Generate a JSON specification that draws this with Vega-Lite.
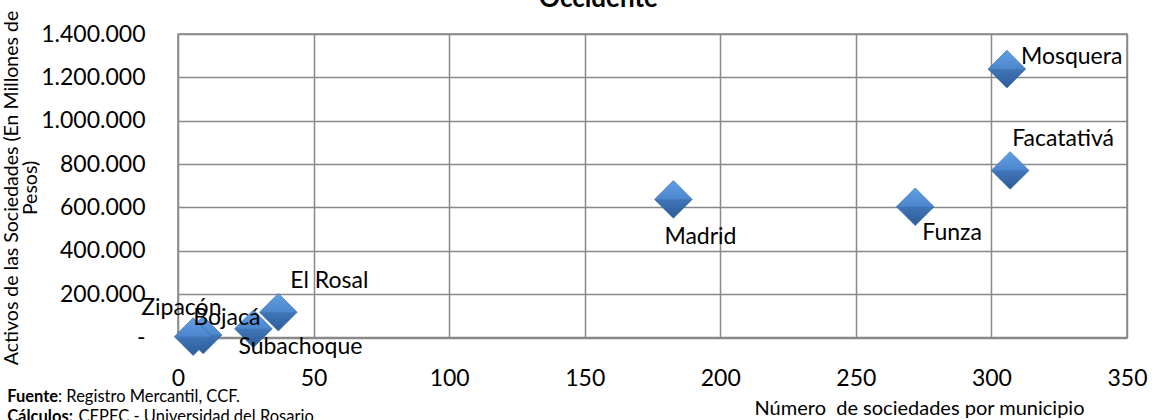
{
  "$schema": "https://vega.github.io/schema/vega-lite/v6.json",
  "autosize": {"type": "none"},
  "width": 949,
  "height": 303.5,
  "padding": {"left": 178, "top": 34, "right": 25, "bottom": 82.5},
  "background": "white",
  "title": {"text": "Occidente", "font": "Lato", "fontSize": 26, "fontWeight": "bold", "color": "black", "anchor": "middle", "dx": -54, "baseline": "alphabetic", "offset": -23},
  "config": {
    "view": {"stroke": "#898989", "strokeWidth": 1.5},
    "text": {"font": "Lato"},
    "axis": {"labelFont": "Lato", "titleFont": "Lato", "labelColor": "black", "titleColor": "black"}
  },
  "data": {"values": [
    {"municipio": "Mosquera", "sociedades": 305.7, "activos": 1238000},
    {"municipio": "Facatativá", "sociedades": 306.9, "activos": 770500},
    {"municipio": "Madrid", "sociedades": 182.7, "activos": 637000},
    {"municipio": "Funza", "sociedades": 271.9, "activos": 603000},
    {"municipio": "El Rosal", "sociedades": 37, "activos": 116600},
    {"municipio": "Subachoque", "sociedades": 27.8, "activos": 40000},
    {"municipio": "Bojacá", "sociedades": 9.3, "activos": 11500},
    {"municipio": "Zipacón", "sociedades": 5.6, "activos": 4000}
  ]},
  "resolve": {"axis": {"x": "independent", "y": "independent"}},
  "layer": [
    {
      "mark": {"type": "point", "shape": "diamond", "filled": true, "size": 1420, "opacity": 1,
        "fill": {"gradient": "linear", "x1": 0, "y1": 0, "x2": 0, "y2": 1, "stops": [
          {"offset": 0, "color": "#62a0e6"}, {"offset": 0.48, "color": "#4d86cc"}, {"offset": 0.52, "color": "#3f74b6"}, {"offset": 1, "color": "#2d5c98"}]},
        "stroke": "#2f5f9c", "strokeWidth": 0.6},
      "encoding": {
        "x": {"field": "sociedades", "type": "quantitative", "scale": {"domain": [0, 350], "nice": false},
          "axis": {"orient": "bottom", "values": [0, 50, 100, 150, 200, 250, 300, 350], "grid": true, "gridColor": "#898989", "gridWidth": 1.5,
            "domain": false, "ticks": false, "tickSize": 0, "labelFontSize": 23, "labelPadding": 30, "labelFlush": false,
            "title": "Número \u00a0de sociedades por municipio", "titleFontSize": 20, "titleFontWeight": "normal",
            "titleX": 741, "titleY": 70.5, "titleAlign": "center", "titleBaseline": "middle", "titleAnchor": null}},
        "y": {"field": "activos", "type": "quantitative", "scale": {"domain": [0, 1400000], "nice": false},
          "axis": {"orient": "left", "values": [0, 200000, 400000, 600000, 800000, 1000000, 1200000, 1400000], "grid": true, "gridColor": "#898989", "gridWidth": 1.5,
            "domain": false, "ticks": false, "tickSize": 0, "labelFontSize": 23, "labelPadding": 33, "labelFlush": false,
            "labelExpr": "datum.value === 0 ? '-\u00a0\u00a0\u00a0' : replace(format(datum.value, ','), regexp(',', 'g'), '.')",
            "title": ["Activos de las Sociedades (En Millones de", "Pesos)"], "titleFontSize": 19.5, "titleFontWeight": "normal",
            "titleAngle": -90, "titleX": -176, "titleY": 153.5, "titleAlign": "center", "titleBaseline": "top", "titleLineHeight": 19}}
      }
    },
    {
      "encoding": {
        "x": {"field": "sociedades", "type": "quantitative", "axis": null},
        "y": {"field": "activos", "type": "quantitative", "axis": null},
        "text": {"field": "municipio", "type": "nominal"}
      },
      "layer": [
        {"transform": [{"filter": "datum.municipio === 'Mosquera'"}], "mark": {"type": "text", "align": "left", "baseline": "middle", "fontSize": 23, "dx": 14, "dy": -12, "color": "black"}},
        {"transform": [{"filter": "datum.municipio === 'Facatativá'"}], "mark": {"type": "text", "align": "left", "baseline": "middle", "fontSize": 23, "dx": 2, "dy": -31, "color": "black"}},
        {"transform": [{"filter": "datum.municipio === 'Madrid'"}], "mark": {"type": "text", "align": "left", "baseline": "middle", "fontSize": 23, "dx": -9, "dy": 38, "color": "black"}},
        {"transform": [{"filter": "datum.municipio === 'Funza'"}], "mark": {"type": "text", "align": "left", "baseline": "middle", "fontSize": 23, "dx": 7, "dy": 26, "color": "black"}},
        {"transform": [{"filter": "datum.municipio === 'El Rosal'"}], "mark": {"type": "text", "align": "left", "baseline": "middle", "fontSize": 23, "dx": 12, "dy": -31, "color": "black"}},
        {"transform": [{"filter": "datum.municipio === 'Subachoque'"}], "mark": {"type": "text", "align": "left", "baseline": "middle", "fontSize": 23, "dx": -15, "dy": 18, "color": "black"}},
        {"transform": [{"filter": "datum.municipio === 'Bojacá'"}], "mark": {"type": "text", "align": "left", "baseline": "middle", "fontSize": 23, "dx": -10, "dy": -17, "color": "black"}},
        {"transform": [{"filter": "datum.municipio === 'Zipacón'"}], "mark": {"type": "text", "align": "left", "baseline": "middle", "fontSize": 23, "dx": -52, "dy": -29, "color": "black"}}
      ]
    },
    {
      "mark": {"type": "point", "opacity": 0},
      "encoding": {
        "x": {"field": "sociedades", "type": "quantitative",
          "axis": {"orient": "top", "labels": false, "ticks": false, "domain": false, "grid": false,
            "title": ["Fuente", "Cálculos:"], "titleFontSize": 16.5, "titleFontWeight": "bold",
            "titleAngle": 0, "titleX": -171.3, "titleY": 367.7, "titleAlign": "left", "titleBaseline": "alphabetic", "titleLineHeight": 20}},
        "y": {"field": "activos", "type": "quantitative", "axis": null}
      }
    },
    {
      "mark": {"type": "point", "opacity": 0},
      "encoding": {
        "x": {"field": "sociedades", "type": "quantitative", "axis": null},
        "y": {"field": "activos", "type": "quantitative",
          "axis": {"orient": "right", "labels": false, "ticks": false, "domain": false, "grid": false,
            "title": ": Registro Mercantil, CCF.", "titleFontSize": 16.5, "titleFontWeight": "normal",
            "titleAngle": 0, "titleX": -1069.5, "titleY": 367.7, "titleAlign": "left", "titleBaseline": "alphabetic"}}
      }
    },
    {
      "mark": {"type": "point", "opacity": 0},
      "encoding": {
        "x": {"field": "sociedades", "type": "quantitative",
          "axis": {"orient": "bottom", "labels": false, "ticks": false, "domain": false, "grid": false,
            "title": "CEPEC - Universidad del Rosario", "titleFontSize": 16.5, "titleFontWeight": "normal",
            "titleAngle": 0, "titleX": -100, "titleY": 84.2, "titleAlign": "left", "titleBaseline": "alphabetic"}},
        "y": {"field": "activos", "type": "quantitative", "axis": null}
      }
    }
  ]
}
